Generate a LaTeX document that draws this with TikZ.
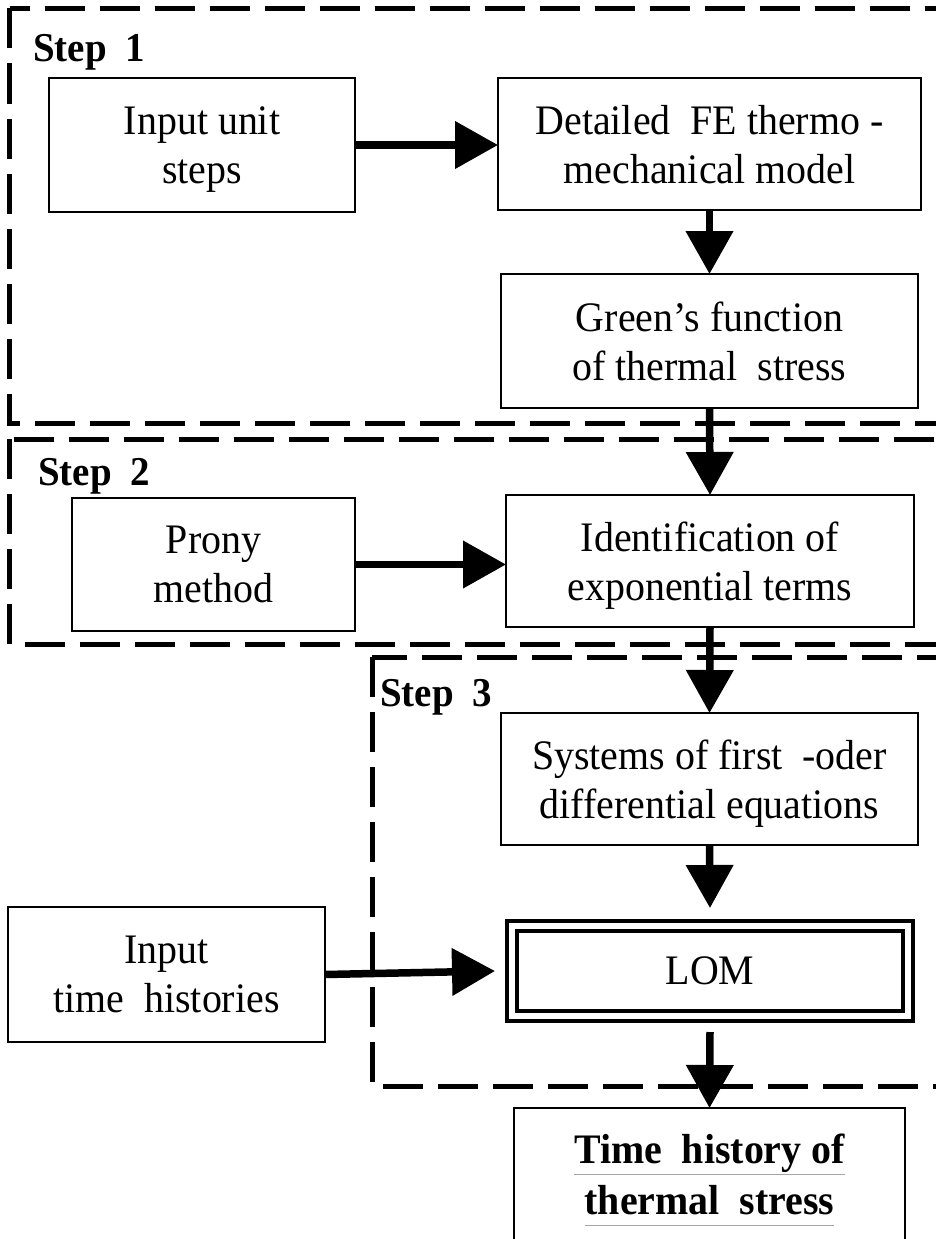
\documentclass[tikz,border=0pt]{standalone}
\usepackage{fontspec}
\setmainfont[FakeStretch=0.95]{Liberation Serif}
\usetikzlibrary{arrows.meta,calc}
\newcommand\grul[1]{\setbox0\hbox{#1}\rlap{\textcolor{black!35}{\vrule width\wd0 height -10pt depth 11pt}}\box0}
\begin{document}
\begin{tikzpicture}[x=1pt,y=-1pt,
  stepbox/.style={draw, line width=2.5pt, outer sep=0pt, inner sep=0pt, align=center, text depth=0pt, font=\fontsize{42}{49}\selectfont},
  dashline/.style={line width=5pt, dash pattern=on 40pt off 15pt},
  steplabel/.style={anchor=base west, inner sep=0pt, font=\fontsize{41}{48}\selectfont\bfseries},
  flow/.style={line width=7.5pt, -{Triangle[length=43pt,width=46pt]}}]
\fill[white] (0,0) rectangle (935,1239);
\useasboundingbox (0,0) rectangle (935,1239);

% dashed step frames
\draw[dashline, dash phase=20pt] (9.5,8.5) -- (960,8.5);
\draw[dashline] (9.5,8.5) -- (9.5,423) -- (960,423);
\draw[dashline, dash phase=51pt] (9.5,439) -- (960,439);
\draw[dashline] (9.5,439) -- (9.5,644) -- (960,644);
\draw[dashline, dash phase=5pt] (372,657) -- (960,657);
\draw[dashline] (372,657) -- (372,1086) -- (960,1086);

\node[steplabel] (s1) at (33,62) {Step\hspace{0.45em}1};
\node[steplabel] (s2) at (38,485) {Step\hspace{0.45em}2};
\node[steplabel] (s3) at (380,706) {Step\hspace{0.45em}3};

% boxes
\node[stepbox, minimum width=306pt, minimum height=134pt] (in1) at (202,145) {Input unit\\steps};
\node[stepbox, minimum width=423pt, minimum height=132pt] (fe) at (709.5,144) {Detailed~ FE thermo -\\mechanical model};
\node[stepbox, minimum width=417pt, minimum height=134pt] (green) at (709.5,341) {Green’s function\\of thermal~ stress};
\node[stepbox, minimum width=283pt, minimum height=133pt] (prony) at (213.5,564.5) {Prony\\method};
\node[stepbox, minimum width=408pt, minimum height=132pt] (ident) at (710,561) {Identification of\\exponential terms};
\node[stepbox, minimum width=417pt, minimum height=132pt] (sys) at (709.5,779) {Systems of first~ -oder\\differential equations};
\node[stepbox, line width=4pt, double, double distance=6pt, minimum width=396pt, minimum height=90pt] (lom) at (710,971) {LOM};
\node[stepbox, minimum width=317pt, minimum height=135pt] (inth) at (166.5,974.5) {Input\\time~ histories};
\node[stepbox, minimum width=391pt, minimum height=136pt, text depth=3pt, font=\fontsize{42}{51}\selectfont\bfseries] (out) at (709.5,1176) {\grul{Time~ history of}\\\grul{thermal~ stress}};

% connectors
\draw[flow] (in1.east) -- (in1.east -| fe.west);
\draw[flow] (fe.south) -- (green.north);
\draw[flow] (green.south) -- (ident.north);
\draw[flow] (prony.east) -- (prony.east -| ident.west);
\draw[flow] (ident.south) -- (sys.north);
\draw[flow] (sys.south) -- ([yshift=18pt]lom.north);
\draw[flow] (inth.east) -- ([xshift=-17pt]lom.west);
\draw[flow] ([yshift=-16pt]lom.south) -- (out.north);
\end{tikzpicture}
\end{document}
